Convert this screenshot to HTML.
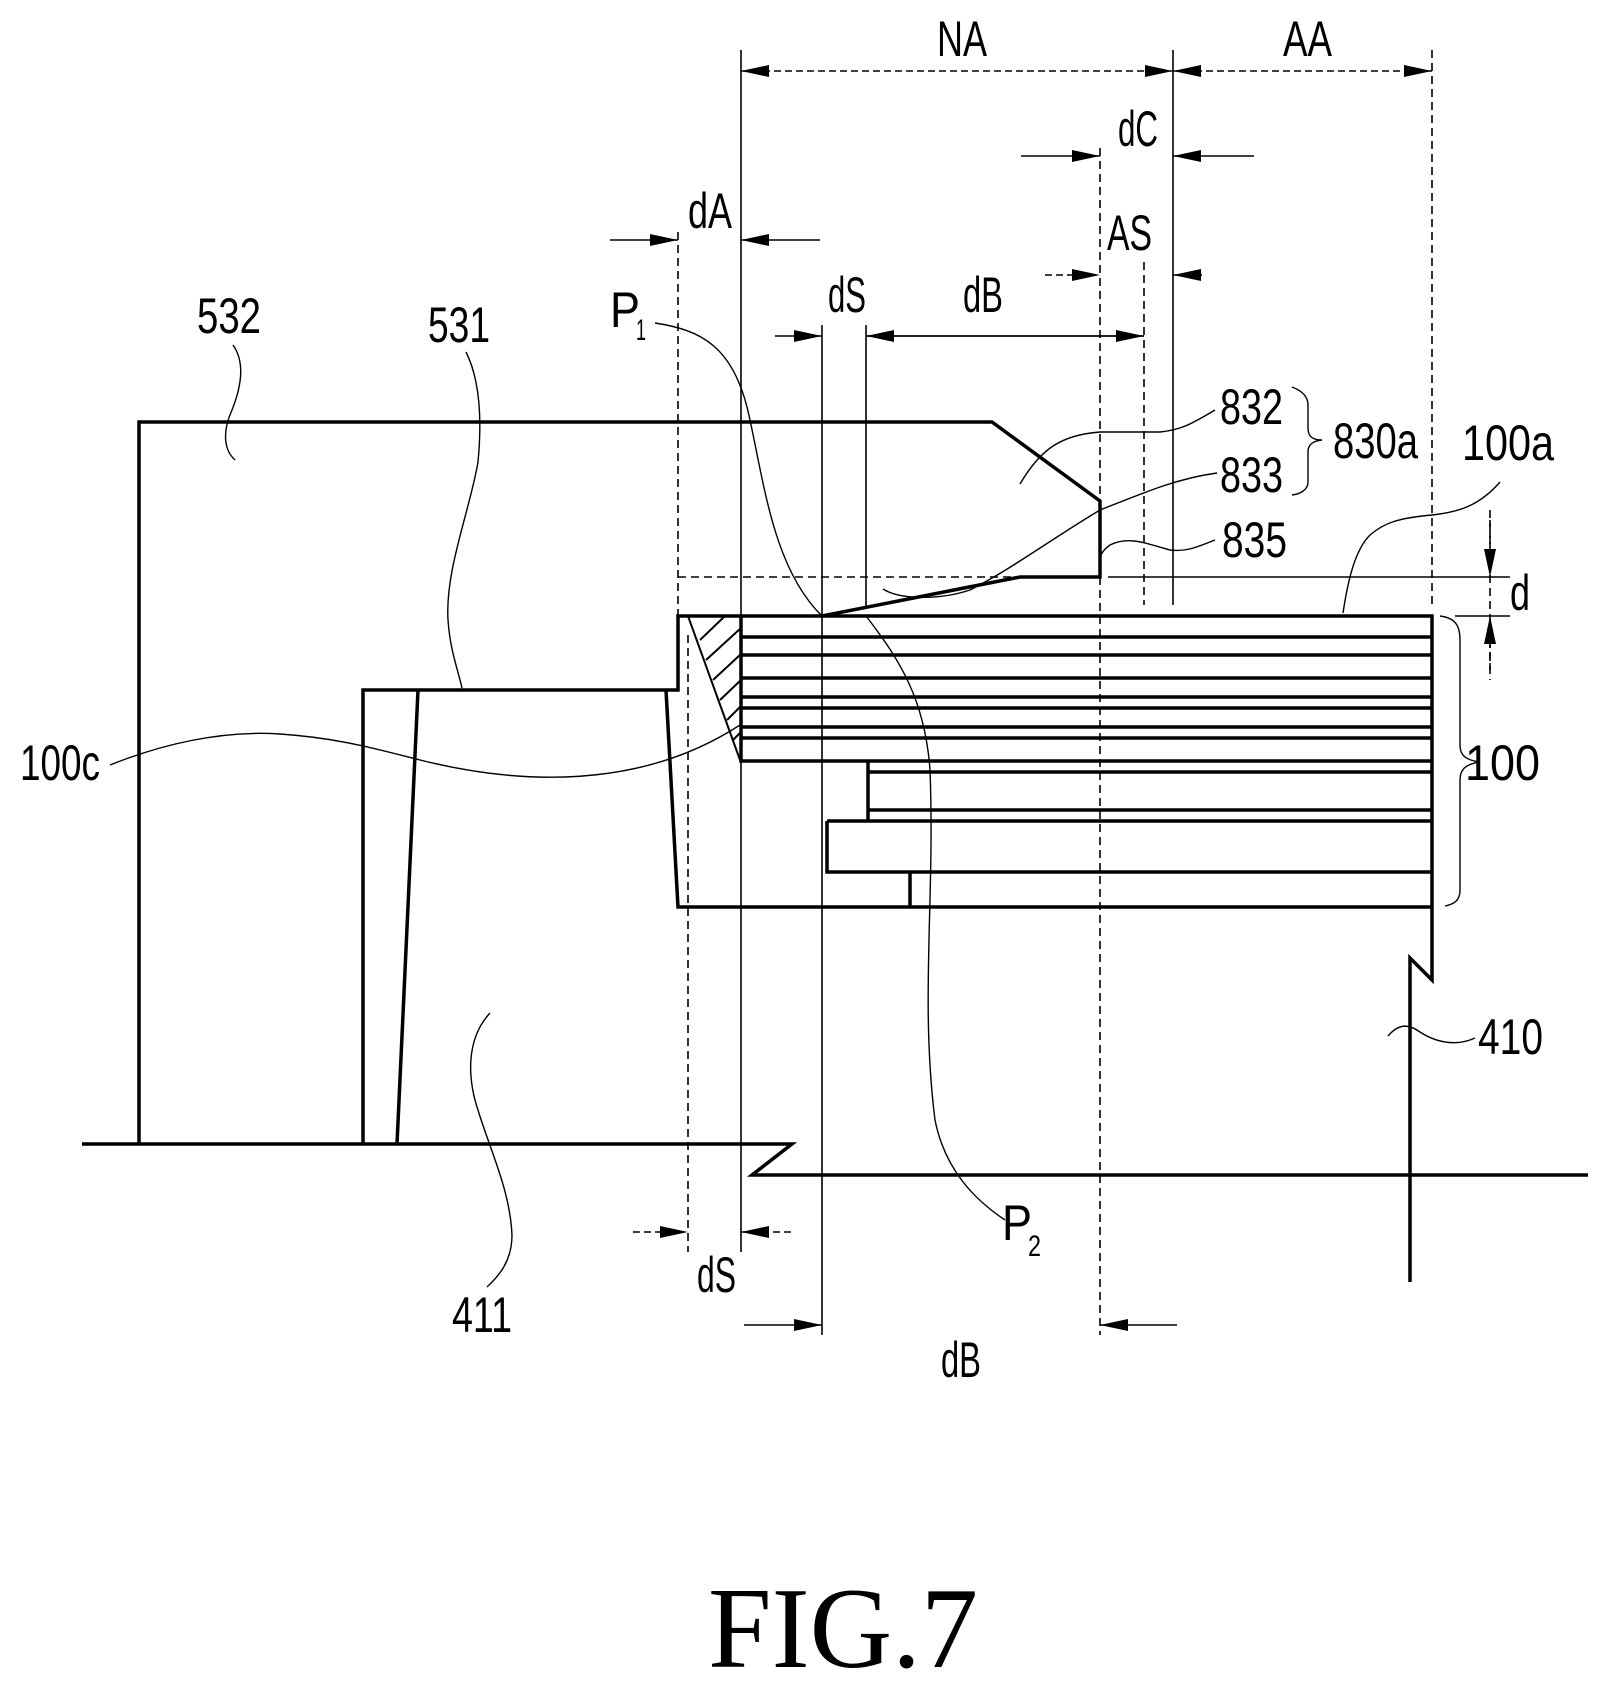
<!DOCTYPE html>
<html><head><meta charset="utf-8"><style>
html,body{margin:0;padding:0;background:#fff;}
svg{display:block;}
text{font-family:"Liberation Sans",sans-serif;fill:#000;}
</style></head><body>
<svg width="1614" height="1689" viewBox="0 0 1614 1689" xmlns="http://www.w3.org/2000/svg">
<defs>
<marker id="a" viewBox="0 0 28 12" refX="28" refY="6" markerWidth="28" markerHeight="12" markerUnits="userSpaceOnUse" orient="auto-start-reverse">
<path d="M0,0 L28,6 L0,12 Z" fill="#000"/>
</marker>
</defs>
<g fill="none" stroke="#000">
<!-- heavy outlines -->
<g stroke-width="3.5">
<path d="M139,1144 V422 H992 L1100,501 V577 H1020 L822,616"/>
<path d="M82,1144 H792 L752,1175 H1588"/>
<path d="M363,1144 V690 H678 V616 H1432 V980 L1410,958 V1282"/>
<path d="M418,690 L397,1144"/>
<path d="M666,690 L678,907 H1432"/>
<path d="M741,637 H1432 M741,655 H1432 M741,678 H1432 M741,697 H1432 M741,708 H1432 M741,727 H1432 M741,738 H1432"/>
<path d="M741,616 V761 H1432"/>
<path d="M868,761 V821 M868,772 H1432 M868,810 H1432"/>
<path d="M827,821 H1432 M827,821 V872 H1432"/>
<path d="M910,872 V907"/>
</g>
<!-- hatch -->
<g stroke-width="2">
<path d="M688,616 L740,760"/>
<path d="M700,640 L725,616 M706,660 L741,628 M713,680 L741,654 M720,700 L741,680 M727,720 L741,706 M733,740 L741,732"/>
</g>
<!-- vertical reference lines -->
<g stroke-width="1.6">
<path d="M741,50 V616 M741,761 V1252"/>
<path d="M822,325 V1335"/>
<path d="M866,325 V608"/>
<path d="M1173,50 V605"/>
<path d="M1108,577 H1510"/>
<path d="M1455,616 H1510"/>
</g>
<g stroke-width="1.6" stroke-dasharray="8,5">
<path d="M678,232 V616"/>
<path d="M688,635 V1252"/>
<path d="M1100,148 V501 M1100,577 V1335"/>
<path d="M1144,262 V605"/>
<path d="M1432,50 V605"/>
<path d="M678,577 H1020"/>
<path d="M1490,510 V680"/>
</g>
<!-- dimension lines -->
<g stroke-width="1.6" stroke-dasharray="7,4">
<path d="M741,71 H1173" marker-start="url(#a)" marker-end="url(#a)"/>
<path d="M1173,71 H1432" marker-start="url(#a)" marker-end="url(#a)"/>
<path d="M1045,275 H1100" marker-end="url(#a)"/>
<path d="M1202,275 H1173" marker-end="url(#a)"/>
<path d="M633,1232 H688" marker-end="url(#a)"/>
<path d="M791,1232 H741" marker-end="url(#a)"/>
<path d="M1490,520 V577" marker-end="url(#a)"/>
<path d="M1490,670 V616" marker-end="url(#a)"/>
</g>
<g stroke-width="1.6">
<path d="M1021,156 H1100" marker-end="url(#a)"/>
<path d="M1254,156 H1173" marker-end="url(#a)"/>
<path d="M610,240 H678" marker-end="url(#a)"/>
<path d="M820,240 H741" marker-end="url(#a)"/>
<path d="M775,336 H822" marker-end="url(#a)"/>
<path d="M1144,336 H866" marker-end="url(#a)"/>
<path d="M866,336 H1144" marker-end="url(#a)"/>
<path d="M744,1325 H822" marker-end="url(#a)"/>
<path d="M1177,1325 H1100" marker-end="url(#a)"/>
</g>
<!-- leaders -->
<g stroke-width="1.4">
<path d="M233,345 C245,362 242,385 232,410 C222,432 224,450 235,460"/>
<path d="M466,352 C480,380 482,420 478,462 C470,510 445,570 448,620 C450,650 458,670 462,688"/>
<path d="M490,1013 C465,1040 468,1080 478,1110 C490,1150 510,1190 512,1235 C512,1260 500,1275 487,1287"/>
<path d="M110,765 C160,745 220,730 280,734 C340,738 380,750 420,760 C520,785 640,790 740,725"/>
<path d="M655,323 C700,330 735,345 750,420 C765,490 775,570 822,616"/>
<path d="M866,616 C900,660 925,700 930,770 C935,900 920,1000 935,1120 C945,1170 975,1200 1005,1220"/>
<path d="M1215,410 C1190,425 1180,430 1160,432 L1100,432 C1060,435 1040,450 1020,484"/>
<path d="M1217,473 C1180,478 1150,490 1100,510 C1050,540 1010,570 970,590 C940,600 900,600 883,589"/>
<path d="M1215,540 C1195,548 1185,552 1170,550 C1150,545 1130,535 1110,545 C1103,550 1100,555 1100,560"/>
<path d="M1500,482 C1480,505 1460,512 1432,515 C1400,518 1385,522 1370,535 C1355,550 1348,580 1343,613"/>
<path d="M1388,1036 C1400,1022 1410,1025 1420,1032 C1440,1045 1460,1045 1475,1038"/>
<!-- braces -->
<path d="M1440,616 C1455,618 1460,625 1460,640 V745 C1460,755 1465,760 1480,762 C1465,764 1460,770 1460,780 V890 C1460,900 1455,904 1445,906"/>
<path d="M1292,387 C1300,390 1308,395 1308,405 V428 C1308,436 1312,440 1322,440 C1312,441 1308,445 1308,452 V482 C1308,490 1300,494 1292,495"/>
</g>
</g>
<!-- labels -->
<g font-size="50">
<text x="937" y="56" textLength="50" lengthAdjust="spacingAndGlyphs">NA</text>
<text x="1283" y="56" textLength="49" lengthAdjust="spacingAndGlyphs">AA</text>
<text x="1118" y="146" textLength="40" lengthAdjust="spacingAndGlyphs">dC</text>
<text x="1107" y="250" textLength="45" lengthAdjust="spacingAndGlyphs">AS</text>
<text x="688" y="228" textLength="44" lengthAdjust="spacingAndGlyphs">dA</text>
<text x="828" y="312" textLength="38" lengthAdjust="spacingAndGlyphs">dS</text>
<text x="963" y="312" textLength="40" lengthAdjust="spacingAndGlyphs">dB</text>
<text x="610" y="327" textLength="30" lengthAdjust="spacingAndGlyphs">P</text>
<text x="636" y="340" font-size="30" textLength="10" lengthAdjust="spacingAndGlyphs">1</text>
<text x="197" y="333" textLength="64" lengthAdjust="spacingAndGlyphs">532</text>
<text x="428" y="342" textLength="62" lengthAdjust="spacingAndGlyphs">531</text>
<text x="1220" y="424" textLength="63" lengthAdjust="spacingAndGlyphs">832</text>
<text x="1220" y="492" textLength="63" lengthAdjust="spacingAndGlyphs">833</text>
<text x="1222" y="557" textLength="65" lengthAdjust="spacingAndGlyphs">835</text>
<text x="1333" y="458" textLength="85" lengthAdjust="spacingAndGlyphs">830a</text>
<text x="1462" y="460" textLength="92" lengthAdjust="spacingAndGlyphs">100a</text>
<text x="1510" y="610" textLength="20" lengthAdjust="spacingAndGlyphs">d</text>
<text x="1465" y="780" textLength="75" lengthAdjust="spacingAndGlyphs">100</text>
<text x="20" y="780" textLength="80" lengthAdjust="spacingAndGlyphs">100c</text>
<text x="1478" y="1054" textLength="65" lengthAdjust="spacingAndGlyphs">410</text>
<text x="452" y="1332" textLength="60" lengthAdjust="spacingAndGlyphs">411</text>
<text x="697" y="1292" textLength="39" lengthAdjust="spacingAndGlyphs">dS</text>
<text x="941" y="1377" textLength="40" lengthAdjust="spacingAndGlyphs">dB</text>
<text x="1002" y="1240" textLength="30" lengthAdjust="spacingAndGlyphs">P</text>
<text x="1028" y="1256" font-size="30" textLength="13" lengthAdjust="spacingAndGlyphs">2</text>
</g>
<text x="708" y="1667" font-size="115" textLength="270" lengthAdjust="spacingAndGlyphs" style="font-family:'Liberation Serif',serif">FIG.7</text>
</svg>
</body></html>
